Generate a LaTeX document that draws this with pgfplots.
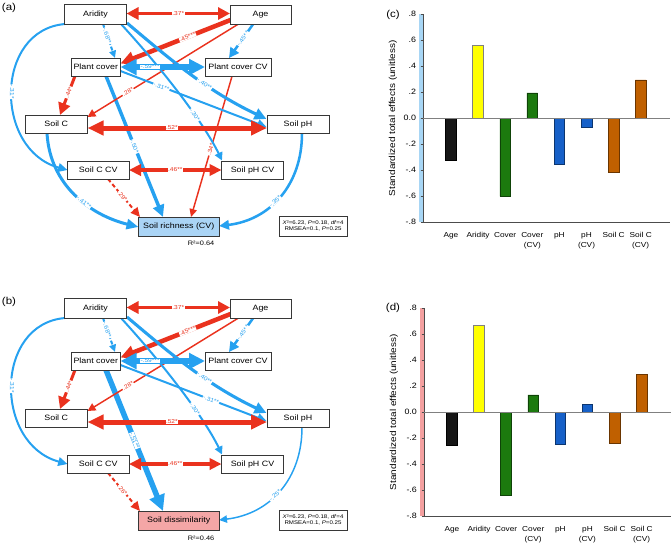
\documentclass[border=0pt]{standalone}
\usepackage{fontspec}
\setmainfont[FakeStretch=1.15]{Liberation Sans}
\usepackage{pgfplots}
\pgfplotsset{compat=1.18}
\usetikzlibrary{arrows.meta}

\definecolor{pr}{RGB}{234,50,30}
\definecolor{pb}{RGB}{38,161,240}
\definecolor{boxc}{RGB}{55,55,55}
\definecolor{richf}{RGB}{170,212,245}
\definecolor{dissf}{RGB}{244,166,166}
\definecolor{bandb}{RGB}{168,214,245}
\definecolor{bandp}{RGB}{244,160,160}
\definecolor{ageC}{RGB}{22,22,22}
\definecolor{aridC}{RGB}{255,255,0}
\definecolor{covC}{RGB}{28,122,14}
\definecolor{phC}{RGB}{22,96,200}
\definecolor{scC}{RGB}{192,96,0}

\newcommand{\fs}[1]{\fontsize{#1}{#1}\selectfont}

\tikzset{
  lr/.style={font=\fs{4.3}, fill=white, inner sep=0.3pt, text=pr, sloped},
  lb/.style={font=\fs{4.3}, fill=white, inner sep=0.3pt, text=pb, sloped},
  ah/.style 2 args={>={Triangle[length=#1pt,width=#2pt]}, ->},
  dh/.style 2 args={>={Triangle[length=#1pt,width=#2pt]}, <->},
}

\newcommand{\bx}[6]{%
  \draw[boxc, line width=0.75pt, fill=#6] (#1,#2) rectangle (#3,#4);
  \node[font=\fs{5.8}, inner sep=0pt] at ({(#1+#3)/2},{(#2+#4)/2}) {#5};}

\newcommand{\commonlines}[1]{%
  \draw[pr, line width=2.6pt, dh={9}{9}] (126.5,13.5) -- (230,13.5) node[lr,pos=0.5]{.37*};
  \draw[pr, line width=3.4pt, ah={10.5}{10}] (230.5,20) -- (120.5,63.5) node[lr,pos=0.39]{.45***};
  \draw[pr, line width=1.1pt, ah={6}{6}] (238,24.3) -- (87.5,117) node[lr,pos=0.73]{.28*};
  \draw[pb, line width=1.9pt, ah={7.5}{7.5}] (253,24.3) -- (229,58) node[lb,pos=0.42]{-.45**};
  \draw[pb, line width=1.5pt, dash pattern=on 3pt off 1.5pt, ah={5.5}{5}] (103,24) -- (115,58) node[lb,pos=0.35]{-.68**};
  \draw[pb, line width=1.5pt, ah={6}{6}] (121,24) .. controls (165,72) and (205,125) .. (222,160.5) node[lb,pos=0.63]{-.30*};
  \draw[pb, line width=2.3pt, ah={9}{8.5}] (127,23) .. controls (165,55) and (205,90) .. (266.5,119) node[lb,pos=0.62]{-.40**};
  \draw[pb, line width=1.5pt, ah={7}{6.5}] (120.5,71) -- (266.5,127) node[lb,pos=#1]{-.31**};
  \draw[pb, line width=4.5pt, dh={12}{11.5}] (120.5,67) -- (205,67) node[lb,pos=0.35]{-.59***};
  \draw[pr, line width=3.75pt, dh={12}{10.5}] (87.5,128) -- (267,128) node[lr,pos=0.47]{.52*};
  \draw[pr, line width=2.6pt, dh={9}{8.5}] (129,170) -- (221.5,170) node[lr,pos=0.5]{.46**};
  \draw[pr, line width=2.25pt, ah={9}{9}] (75,76) -- (60,115) node[lr,pos=0.42]{.44*};
  \draw[pb, line width=1.5pt, ah={7}{6.5}] (65,24) .. controls (-6,30) and (-6,150) .. (67.5,170) node[lb,pos=0.5]{-.31*};
}

\newcommand{\commonboxes}{%
  \bx{64.5}{4.5}{126.5}{24}{Aridity}{white}
  \bx{230}{5}{291}{24.3}{Age}{white}
  \bx{71}{58}{120.5}{76}{Plant cover}{white}
  \bx{205}{58}{271}{76.3}{Plant cover CV}{white}
  \bx{25}{115}{87.5}{133.3}{Soil C}{white}
  \bx{267}{115}{329}{133.3}{Soil pH}{white}
  \bx{67.5}{161}{129}{179}{Soil C CV}{white}
  \bx{221.5}{161}{283.5}{179}{Soil pH CV}{white}
  \draw[boxc, line width=0.5pt] (279,216) rectangle (347,236);
  \node[font=\fontsize{4}{5}\selectfont, align=center] at (313,226) {\textit{X}²=6.23, \textit{P}=0.18, \textit{df}=4\\RMSEA=0.1, \textit{P}=0.25};
}

\pgfplotsset{
 barax/.style={
   scale only axis, width=185pt, height=156pt,
   xmin=-1.02, xmax=8.08, ymin=-0.8, ymax=0.8,
   axis x line=bottom, axis y line=left,
   axis line style={-, draw=black!70, line width=0.5pt},
   xtick={0,1,2,3,4,5,6,7},
   xticklabels={Age,Aridity,Cover,Cover\\(CV),pH,pH\\(CV),Soil C,Soil C\\(CV)},
   xticklabel style={align=center, font=\fontsize{5.4}{7.5}\selectfont, anchor=north, yshift=-2pt},
   x tick style={draw=none},
   ytick={-0.8,-0.6,-0.4,-0.2,0,0.2,0.4,0.6,0.8},
   yticklabels={-.8,-.6,-.4,-.2,0.0,.2,.4,.6,.8},
   yticklabel style={font=\fs{5.8}},
   y tick style={draw=black!70, line width=0.4pt},
   tick align=outside, major tick length=2pt,
   extra y ticks={0}, extra y tick labels={},
   extra y tick style={grid=major, major grid style={draw=gray, line width=0.6pt}, tick style={draw=none}},
   ylabel={Standardized total effects (unitless)},
   ylabel style={font=\fs{6.5}, at={(axis description cs:-0.123,0.5)}, anchor=center},
   axis on top, clip=false,
 },
 mybar/.style={ybar, bar width=8pt, bar shift=0pt, line width=0.5pt},
}

\begin{document}
\begin{tikzpicture}
\path[use as bounding box] (0,0) rectangle (504pt,-408pt);

% ---------- (a)
\begin{scope}[x=0.75pt,y=-0.75pt]
  \draw[pr, line width=1.1pt, ah={6}{5.5}] (232,76.3) -- (191,217) node[lr,pos=0.52]{.34*};
  \draw[pb, line width=2.6pt, ah={9}{8.5}] (106,76) -- (163,217) node[lb,pos=0.5]{-.50*};
  \draw[pr, line width=1.5pt, dash pattern=on 3pt off 2pt, ah={7}{6.5}] (108,179) -- (140,217) node[lr,pos=0.45]{.29*};
  \draw[pb, line width=2.25pt, ah={9}{7.5}] (47,133.3) .. controls (50,185) and (90,215) .. (138.5,227) node[lb,pos=0.58]{-.41**};
  \draw[pb, line width=1.9pt, ah={7.5}{7}] (302,133.3) .. controls (302,185) and (270,220) .. (219,226) node[lb,pos=0.55]{-.35*};
  \commonlines{0.28}
  \commonboxes
  \bx{138.5}{217}{219}{236}{Soil richness (CV)}{richf}
  \node[font=\fs{4.8}, anchor=east] at (219,243) {R²=0.64};
  \node[font=\fs{7.5}] at (9,8) {(a)};
  \node[font=\fs{7.5}] at (393,15) {(c)};
  \node[font=\fs{7.5}] at (393,307.7) {(d)};
\end{scope}

% ---------- (b)
\begin{scope}[x=0.75pt,y=-0.75pt,yshift=-220.5pt]
  \draw[pb, line width=4.1pt, ah={12}{11.5}] (106,76) -- (163,217) node[lb,pos=0.5]{-.51**};
  \draw[pr, line width=1.5pt, dash pattern=on 3pt off 2pt, ah={7}{6.5}] (108,179) -- (140,217) node[lr,pos=0.45]{.26*};
  \draw[pb, line width=1.1pt, ah={6}{5.5}] (302,133.3) .. controls (302,185) and (270,220) .. (219,226) node[lb,pos=0.55]{-.25*};
  \commonlines{0.62}
  \commonboxes
  \bx{138.5}{217}{219}{236}{Soil dissimilarity}{dissf}
  \node[font=\fs{4.8}, anchor=east] at (219,244) {R²=0.46};
  \node[font=\fs{7.5}] at (9,8) {(b)};
\end{scope}

% ---------- (c)
\begin{axis}[barax, at={(317.5pt,-166.7pt)}, anchor=south west]
  \fill[bandb] ([xshift=-3pt]rel axis cs:0,0) rectangle (rel axis cs:0,1);
  \addplot[mybar, fill=ageC, draw=black] coordinates {(0,-0.32)};
  \addplot[mybar, fill=aridC, draw=black!50] coordinates {(1,0.56)};
  \addplot[mybar, fill=covC, draw=covC!55!black] coordinates {(2,-0.60) (3,0.195)};
  \addplot[mybar, fill=phC, draw=phC!55!black] coordinates {(4,-0.355) (5,-0.072)};
  \addplot[mybar, fill=scC, draw=scC!55!black] coordinates {(6,-0.415) (7,0.295)};
\end{axis}

% ---------- (d)
\begin{axis}[barax, at={(318.2pt,-387.2pt)}, anchor=south west]
  \fill[bandp] ([xshift=-3pt]rel axis cs:0,0) rectangle (rel axis cs:0,1);
  \addplot[mybar, fill=ageC, draw=black] coordinates {(0,-0.253)};
  \addplot[mybar, fill=aridC, draw=black!50] coordinates {(1,0.672)};
  \addplot[mybar, fill=covC, draw=covC!55!black] coordinates {(2,-0.636) (3,0.133)};
  \addplot[mybar, fill=phC, draw=phC!55!black] coordinates {(4,-0.248) (5,0.059)};
  \addplot[mybar, fill=scC, draw=scC!55!black] coordinates {(6,-0.238) (7,0.294)};
\end{axis}
\end{tikzpicture}
\end{document}
